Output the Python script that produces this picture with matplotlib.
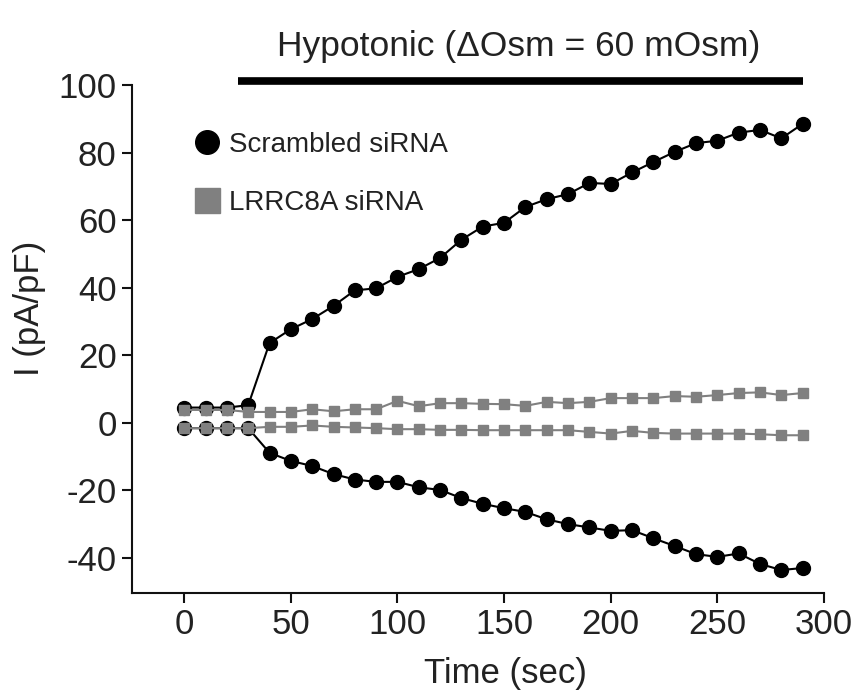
import numpy as np
import matplotlib
matplotlib.use("Agg")
import matplotlib.pyplot as plt
from matplotlib.lines import Line2D

plt.rcParams['font.family'] = ['Liberation Sans', 'DejaVu Sans']
plt.rcParams['axes.unicode_minus'] = False

# time points (sec)
time = [0, 10, 20, 30, 40, 50, 60, 70, 80, 90, 100, 110, 120, 130, 140,
        150, 160, 170, 180, 190, 200, 210, 220, 230, 240, 250, 260, 270, 280, 290]

# Scrambled siRNA, outward (top) and inward (bottom) current
scr_up = [4.5, 4.5, 4.5, 5.2, 23.6, 27.7, 30.7, 34.6, 39.2, 39.8, 43.2, 45.5, 48.8, 54.2, 58.1,
          59.2, 63.9, 66.2, 67.7, 71.0, 70.7, 74.1, 77.2, 80.2, 82.8, 83.5, 85.9, 86.7, 84.2, 88.5]
scr_dn = [-1.6, -1.6, -1.6, -1.6, -8.9, -11.3, -12.8, -15.2, -16.8, -17.5, -17.5, -19.1, -19.9, -22.3, -24.0,
          -25.3, -26.4, -28.6, -30.0, -31.0, -32.0, -31.8, -34.2, -36.5, -38.9, -39.7, -38.7, -41.8, -43.6, -43.0]

# LRRC8A siRNA
lr_up = [3.8, 3.8, 3.8, 3.2, 3.2, 3.2, 4.0, 3.4, 4.0, 4.0, 6.5, 4.9, 5.8, 5.8, 5.6,
         5.5, 5.0, 6.2, 5.8, 6.2, 7.3, 7.3, 7.3, 7.9, 7.7, 8.2, 8.8, 9.0, 8.2, 8.8]
lr_dn = [-1.6, -1.6, -1.6, -1.6, -1.2, -1.2, -0.8, -1.2, -1.4, -1.6, -1.9, -1.9, -2.1, -2.1, -2.2,
         -2.2, -2.2, -2.2, -2.2, -2.7, -3.2, -2.4, -3.0, -3.2, -3.2, -3.2, -3.2, -3.4, -3.7, -3.7]

black = '#000000'
gray = '#808080'
txt = '#222222'

fig = plt.figure(figsize=(8.6, 6.98), dpi=100)
ax = fig.add_axes([132/860, 1-593/698, 692/860, 508/698])

for y in (scr_up, scr_dn):
    ax.plot(time, y, color=black, lw=1.5, marker='o', ms=10, mfc=black, mec=black, zorder=3)
for y in (lr_up, lr_dn):
    ax.plot(time, y, color=gray, lw=1.5, marker='s', ms=7, mfc=gray, mec=gray, zorder=4)

ax.set_xlim(-24.5, 300)
ax.set_ylim(-50.4, 100)
ax.set_xticks([0, 50, 100, 150, 200, 250, 300])
ax.set_yticks([-40, -20, 0, 20, 40, 60, 80, 100])

for s in ('top', 'right'):
    ax.spines[s].set_visible(False)
for s in ('left', 'bottom'):
    ax.spines[s].set_linewidth(1.5)
    ax.spines[s].set_color('#111111')
ax.tick_params(direction='out', length=7, width=1.5, color='#111111',
               labelsize=25, labelcolor=txt, pad=4)

ax.set_xlabel('Time (sec)', fontsize=25, color=txt)
ax.xaxis.set_label_coords((505-132)/692, -0.125)
ax.set_ylabel('I (pA/pF)', fontsize=25, color=txt)
ax.yaxis.set_label_coords(-0.124, (593-308)/508)

# hypotonic application bar
ax.plot([25, 290], [101.2, 101.2], color=black, lw=5.5, solid_capstyle='butt', clip_on=False)
ax.text(157, 111.5, 'Hypotonic (\u0394Osm = 60 mOsm)', fontsize=25.5, color=txt,
        ha='center', va='center', clip_on=False)

handles = [
    Line2D([], [], ls='none', marker='o', ms=17, mfc=black, mec=black),
    Line2D([], [], ls='none', marker='s', ms=18, mfc=gray, mec=gray),
]
ax.legend(handles, ['Scrambled siRNA', 'LRRC8A siRNA'], loc='upper left',
          bbox_to_anchor=((194-132)/692, (593-132)/508), frameon=False,
          fontsize=20, handlelength=0.9, handletextpad=0.35, labelspacing=1.15,
          borderpad=0, borderaxespad=0, labelcolor=txt)

fig.savefig('out.png', dpi=100)
